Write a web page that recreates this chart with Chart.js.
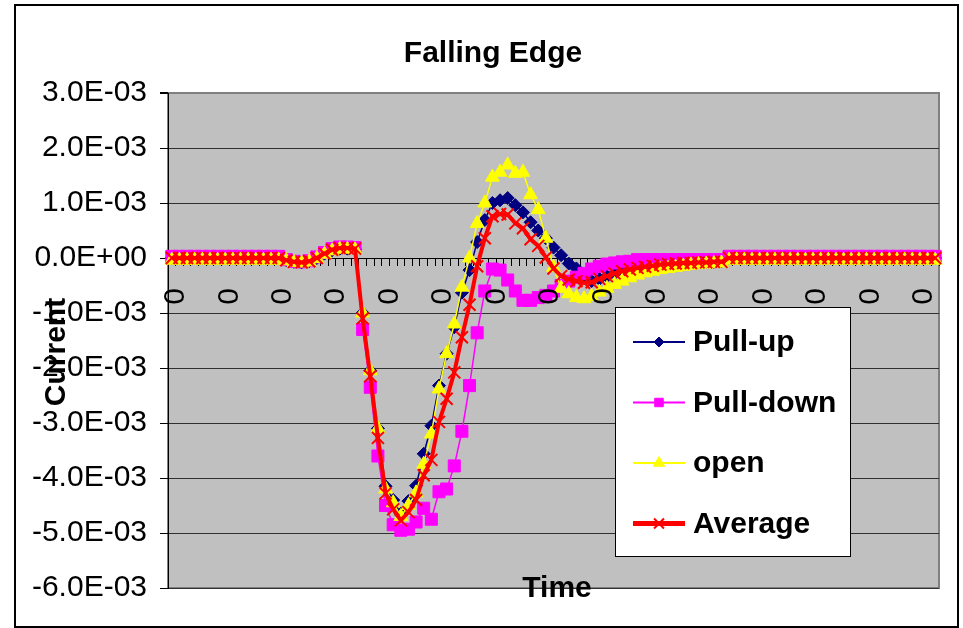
<!DOCTYPE html>
<html>
<head>
<meta charset="utf-8">
<script src="https://cdn.jsdelivr.net/npm/chart.js@4/dist/chart.umd.min.js"></script>
<style>
  html, body { margin: 0; padding: 0; background: #fff; }
</style>
</head>
<body>
<canvas id="edgeChart" width="963" height="628"></canvas>
<script>
// values in units of 1E-03 (A), 101 time steps
var timeLabels = Array.from({ length: 101 }, function () { return '0'; });

var pullUp = [
  0, 0, 0, 0, 0, 0, 0, 0, 0, 0,
  0, 0, 0, 0, 0, -0.04, -0.07, -0.08, -0.06, 0.00,
  0.08, 0.14, 0.17, 0.17, 0.16, -1.00, -2.05, -3.10, -4.15, -4.40,
  -4.65, -4.42, -4.14, -3.56, -3.05, -2.32, -1.74, -1.26, -0.63, -0.22,
  0.29, 0.69, 1.00, 1.05, 1.09, 0.96, 0.83, 0.65, 0.50, 0.36,
  0.19, 0.05, -0.10, -0.19, -0.33, -0.42, -0.38, -0.33, -0.28, -0.24,
  -0.20, -0.17, -0.15, -0.13, -0.11, -0.10, -0.09, -0.08, -0.08, -0.07,
  -0.07, -0.07, -0.06, 0, 0, 0, 0, 0, 0, 0,
  0, 0, 0, 0, 0, 0, 0, 0, 0, 0,
  0, 0, 0, 0, 0, 0, 0, 0, 0, 0,
  0
];

var pullDown = [
  0.03, 0.03, 0.03, 0.03, 0.03, 0.03, 0.03, 0.03, 0.03, 0.03,
  0.03, 0.03, 0.03, 0.03, 0.03, -0.03, -0.06, -0.07, -0.05, 0.02,
  0.10, 0.17, 0.20, 0.20, 0.19, -1.30, -2.35, -3.60, -4.50, -4.85,
  -4.95, -4.93, -4.80, -4.55, -4.75, -4.25, -4.20, -3.78, -3.15, -2.32,
  -1.36, -0.60, -0.20, -0.22, -0.40, -0.60, -0.77, -0.77, -0.72, -0.68,
  -0.60, -0.50, -0.42, -0.35, -0.28, -0.20, -0.15, -0.11, -0.09, -0.07,
  -0.06, -0.03, -0.03, -0.03, -0.03, -0.03, -0.03, -0.03, -0.03, -0.03,
  -0.03, -0.03, -0.03, 0.03, 0.03, 0.03, 0.03, 0.03, 0.03, 0.03,
  0.03, 0.03, 0.03, 0.03, 0.03, 0.03, 0.03, 0.03, 0.03, 0.03,
  0.03, 0.03, 0.03, 0.03, 0.03, 0.03, 0.03, 0.03, 0.03, 0.03,
  0.03
];

var openPin = [
  -0.04, -0.04, -0.04, -0.04, -0.04, -0.04, -0.04, -0.04, -0.04, -0.04,
  -0.04, -0.04, -0.04, -0.04, -0.04, -0.05, -0.08, -0.09, -0.07, -0.01,
  0.07, 0.13, 0.16, 0.16, 0.15, -1.00, -2.05, -3.10, -4.20, -4.45,
  -4.70, -4.50, -4.27, -3.75, -3.20, -2.38, -1.74, -1.20, -0.53, 0.00,
  0.63, 1.00, 1.47, 1.56, 1.69, 1.54, 1.56, 1.15, 0.88, 0.36,
  -0.17, -0.55, -0.65, -0.72, -0.74, -0.70, -0.62, -0.55, -0.48, -0.42,
  -0.36, -0.31, -0.27, -0.24, -0.21, -0.19, -0.17, -0.15, -0.13, -0.12,
  -0.11, -0.10, -0.09, -0.04, -0.04, -0.04, -0.04, -0.04, -0.04, -0.04,
  -0.04, -0.04, -0.04, -0.04, -0.04, -0.04, -0.04, -0.04, -0.04, -0.04,
  -0.04, -0.04, -0.04, -0.04, -0.04, -0.04, -0.04, -0.04, -0.04, -0.04,
  -0.04
];

var average = [
  0, 0, 0, 0, 0, 0, 0, 0, 0, 0,
  0, 0, 0, 0, 0, -0.04, -0.07, -0.08, -0.06, 0.00,
  0.08, 0.15, 0.18, 0.18, 0.17, -1.10, -2.15, -3.27, -4.28, -4.57,
  -4.77, -4.62, -4.40, -3.95, -3.67, -2.98, -2.56, -2.08, -1.44, -0.85,
  -0.15, 0.36, 0.76, 0.80, 0.79, 0.63, 0.54, 0.34, 0.22, 0.01,
  -0.19, -0.33, -0.39, -0.42, -0.45, -0.44, -0.38, -0.33, -0.28, -0.24,
  -0.21, -0.18, -0.16, -0.14, -0.12, -0.11, -0.10, -0.09, -0.09, -0.08,
  -0.08, -0.07, -0.07, 0, 0, 0, 0, 0, 0, 0,
  0, 0, 0, 0, 0, 0, 0, 0, 0, 0,
  0, 0, 0, 0, 0, 0, 0, 0, 0, 0,
  0
];

var yTickLabels = ['-6.0E-03', '-5.0E-03', '-4.0E-03', '-3.0E-03', '-2.0E-03',
  '-1.0E-03', '0.0E+00', '1.0E-03', '2.0E-03', '3.0E-03'];

var chartTitle = 'Falling Edge';
var xTitle = 'Time';
var yTitle = 'Current';

var FONT = '"Liberation Sans", Arial, sans-serif';
Chart.defaults.font.family = FONT;
Chart.defaults.color = '#000';

// grey plot area, outer frame, titles and the boxed legend
var excelLook = {
  id: 'excelLook',
  beforeDraw: function (chart) {
    var c = chart.ctx, a = chart.chartArea;
    c.save();
    c.fillStyle = '#fff';
    c.fillRect(0, 0, chart.width, chart.height);
    c.fillStyle = '#C0C0C0';
    c.fillRect(a.left, a.top, a.right - a.left, a.bottom - a.top);
    c.strokeStyle = '#808080';
    c.lineWidth = 2;
    c.strokeRect(a.left, a.top, a.right - a.left, a.bottom - a.top);
    c.restore();
  },
  afterDraw: function (chart) {
    var c = chart.ctx;
    c.save();
    // outer frame
    c.strokeStyle = '#000';
    c.lineWidth = 2;
    c.strokeRect(15, 5, 943, 622);

    // titles
    c.fillStyle = '#000';
    c.font = 'bold 30px ' + FONT;
    c.textAlign = 'center';
    c.textBaseline = 'alphabetic';
    c.fillText(chartTitle, 493, 62);
    c.fillText(xTitle, 557, 597);
    c.save();
    c.translate(65, 352);
    c.rotate(-Math.PI / 2);
    c.fillText(yTitle, 0, 0);
    c.restore();

    // legend
    c.fillStyle = '#fff';
    c.fillRect(615, 307, 235, 249);
    c.strokeStyle = '#000';
    c.lineWidth = 1;
    c.strokeRect(615.5, 307.5, 235, 249);
    var sizes = [5, 6, 6.5, 7];
    chart.data.datasets.forEach(function (ds, i) {
      var y = 342 + i * 60.5;
      c.strokeStyle = ds.borderColor;
      c.fillStyle = ds.backgroundColor;
      c.lineWidth = i === 3 ? 5 : 2;
      c.beginPath();
      c.moveTo(633, y);
      c.lineTo(685, y);
      c.stroke();
      c.lineWidth = i === 3 ? 2 : 1;
      Chart.helpers.drawPoint(c, { pointStyle: ds.pointStyle, radius: sizes[i], rotation: 0, borderWidth: c.lineWidth }, 659, y);
      c.fillStyle = '#000';
      c.font = 'bold 30px ' + FONT;
      c.textAlign = 'left';
      c.textBaseline = 'middle';
      c.fillText(ds.label, 693, y + 1);
    });
    c.restore();
  }
};

var ctx = document.getElementById('edgeChart').getContext('2d');
var edgeChart = new Chart(ctx, {
  type: 'line',
  data: {
    labels: timeLabels,
    datasets: [{
      label: 'Pull-up',
      data: pullUp,
      borderColor: '#000080',
      backgroundColor: '#000080',
      borderWidth: 1.5,
      pointStyle: 'rectRot',
      pointRadius: 6.5,
      pointBorderWidth: 1,
      order: 3
    }, {
      label: 'Pull-down',
      data: pullDown,
      borderColor: '#FF00FF',
      backgroundColor: '#FF00FF',
      borderWidth: 1.5,
      pointStyle: 'rect',
      pointRadius: 8.5,
      pointBorderWidth: 1,
      order: 2
    }, {
      label: 'open',
      data: openPin,
      borderColor: '#FFFF00',
      backgroundColor: '#FFFF00',
      borderWidth: 1.5,
      pointStyle: 'triangle',
      pointRadius: 8,
      pointBorderWidth: 1,
      order: 1
    }, {
      label: 'Average',
      data: average,
      borderColor: '#FF0000',
      backgroundColor: '#FF0000',
      borderWidth: 4,
      pointStyle: 'crossRot',
      pointRadius: 8.5,
      pointBorderWidth: 2,
      order: 0
    }]
  },
  options: {
    responsive: false,
    animation: false,
    devicePixelRatio: 1,
    layout: { padding: { left: 0, right: 24, top: 93, bottom: 40 } },
    elements: { line: { tension: 0 } },
    plugins: {
      legend: { display: false },
      tooltip: { enabled: false },
      title: { display: false }
    },
    scales: {
      x: {
        position: { y: 0 },
        offset: true,
        afterFit: function (scale) { scale.paddingLeft = 0; scale.paddingRight = 0; },
        grid: { drawOnChartArea: false, drawTicks: true, tickLength: 7, tickColor: '#000', offset: true },
        border: { display: true, color: '#000', width: 1 },
        ticks: {
          autoSkip: false,
          minRotation: 90,
          maxRotation: 90,
          padding: 23,
          labelOffset: 4,
          z: 1,
          color: '#000',
          font: { size: 30 },
          callback: function (v, i) { return i % 7 === 0 ? this.getLabelForValue(v) : ''; }
        }
      },
      y: {
        min: -6,
        max: 3,
        afterFit: function (scale) { scale.width = 168; },
        grid: {
          color: function (c) { return c.tick && c.tick.value === 3 ? '#808080' : '#303030'; },
          lineWidth: function (c) { return c.tick && c.tick.value === 3 ? 2 : 1; },
          tickColor: '#000',
          tickLength: 8
        },
        border: { color: '#000', width: 1 },
        ticks: {
          stepSize: 1,
          padding: 13,
          color: '#000',
          font: { size: 30 },
          callback: function (v, i) { return yTickLabels[i]; }
        }
      }
    }
  },
  plugins: [excelLook]
});
</script>
</body>
</html>
